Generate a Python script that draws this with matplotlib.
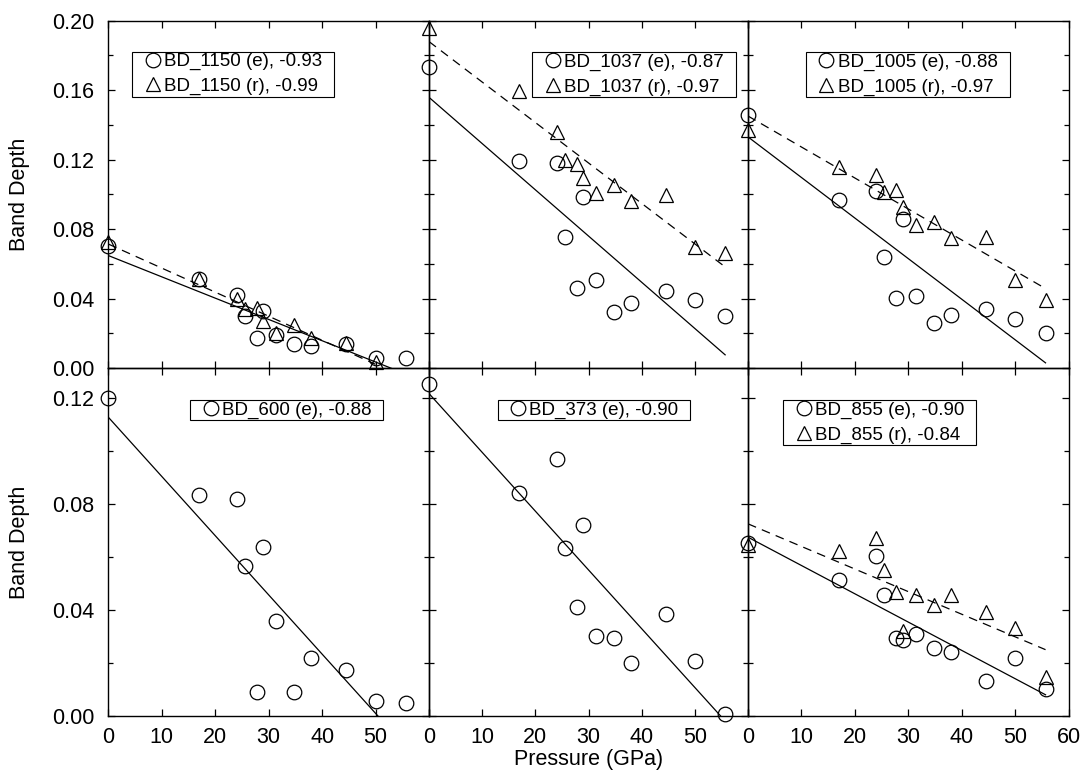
import matplotlib
matplotlib.use("Agg")
import matplotlib.pyplot as plt
from matplotlib.patches import Rectangle
from matplotlib.ticker import MultipleLocator
import numpy as np

plt.rcParams["font.family"] = ["Liberation Sans", "DejaVu Sans"]

# pressure steps (GPa), shared by every band
pressure = [0, 17, 24, 25.5, 27.8, 29, 31.4, 34.8, 38, 44.5, 50, 55.7]

bd1150_e = [0.070, 0.051, 0.042, 0.030, 0.017, 0.033, 0.019, 0.0136, 0.0128, 0.014, 0.006, 0.0056]
bd1150_r = [0.0727, 0.051, 0.040, 0.034, 0.0345, 0.027, 0.020, 0.0248, 0.0172, 0.0144, 0.0036]

bd1037_e = [0.1735, 0.1194, 0.1182, 0.0756, 0.0459, 0.0987, 0.0507, 0.0321, 0.0372, 0.0445, 0.0392, 0.0299]
bd1037_r = [0.1956, 0.1597, 0.1361, 0.1198, 0.1173, 0.1096, 0.1006, 0.1054, 0.0962, 0.0996, 0.0699, 0.0660]

bd1005_e = [0.1457, 0.0967, 0.1019, 0.0641, 0.0401, 0.0858, 0.0416, 0.0261, 0.0305, 0.0340, 0.0282, 0.0200]
bd1005_r = [0.1371, 0.1156, 0.1111, 0.1015, 0.1025, 0.0929, 0.0823, 0.0843, 0.0747, 0.0756, 0.0507, 0.0392]

bd600_e = [0.120, 0.0833, 0.0817, 0.0567, 0.0092, 0.0638, 0.0358, 0.0089, 0.0217, 0.0172, 0.0058, 0.0048]

bd373_e = [0.1254, 0.0842, 0.0968, 0.0632, 0.0410, 0.0720, 0.0302, 0.0293, 0.0201, 0.0385, 0.0209, 0.0006]

bd855_e = [0.0651, 0.0513, 0.0603, 0.0456, 0.0293, 0.0287, 0.0309, 0.0258, 0.0243, 0.0132, 0.0218, 0.0101]
bd855_r = [0.0645, 0.0623, 0.0672, 0.0550, 0.0469, 0.0322, 0.0456, 0.0418, 0.0456, 0.0391, 0.0331, 0.0148]

labels_1150 = ["BD_1150 (e), -0.93", "BD_1150 (r), -0.99"]
labels_1037 = ["BD_1037 (e), -0.87", "BD_1037 (r), -0.97"]
labels_1005 = ["BD_1005 (e), -0.88", "BD_1005 (r), -0.97"]
labels_600 = ["BD_600 (e), -0.88"]
labels_373 = ["BD_373 (e), -0.90"]
labels_855 = ["BD_855 (e), -0.90", "BD_855 (r), -0.84"]

W, H = 1081, 774
FS = 15.5      # ticks / axis titles
LFS = 13.5     # legend text
PADX, PADY = 12, 1.5   # legend box padding, px

fig = plt.figure(figsize=(W / 100, H / 100), dpi=100)

col_px = [(108.3, 320.7), (429.0, 319.0), (748.0, 320.5)]
row_px = [(20.7, 368.0), (368.0, 716.0)]


def make_ax(row, col):
    x0, w = col_px[col]
    top, bot = row_px[row]
    ax = fig.add_axes([x0 / W, 1 - bot / H, w / W, (bot - top) / H])
    ax.set_facecolor("none")
    return ax, w, bot - top


def draw_series(ax, y, marker, ls):
    x = np.array(pressure[: len(y)], dtype=float)
    y = np.array(y, dtype=float)
    slope, icpt = np.polyfit(x, y, 1)
    xx = np.array([x.min(), x.max()])
    line, = ax.plot(xx, icpt + slope * xx, color="black", lw=0.9, ls=ls, zorder=2)
    if ls == "--":
        line.set_dashes((7, 5))
    h, = ax.plot(x, y, ls="none", marker=marker, ms=10.5, mfc="none", mec="black",
                 mew=0.9, clip_on=False, zorder=3)
    return h


def style(ax, row, col, ymax, ylabels):
    ax.set_xlim(0, 60)
    ax.set_ylim(0, ymax)
    ax.xaxis.set_major_locator(MultipleLocator(10))
    ax.yaxis.set_major_locator(MultipleLocator(0.04))
    ax.yaxis.set_minor_locator(MultipleLocator(0.02))
    ax.tick_params(which="both", direction="in", top=True, right=True, width=0.9,
                   labelsize=FS, colors="black")
    ax.tick_params(which="major", length=5)
    ax.tick_params(which="minor", length=3.5)
    ax.tick_params(axis="y", pad=10)
    ax.tick_params(axis="x", pad=8)
    for sp in ax.spines.values():
        sp.set_linewidth(1.0)
    if row == 1:
        ticks = list(range(0, 61, 10))
        ax.set_xticks(ticks)
        ax.set_xticklabels([str(t) if (t < 60 or col == 2) else "" for t in ticks])
    else:
        ax.set_xticklabels([])
    if col == 0:
        ax.set_yticks(ylabels)
        ax.set_yticklabels([f"{v:.2f}" for v in ylabels])
    else:
        ax.set_yticklabels([])


top_ticks = [0.00, 0.04, 0.08, 0.12, 0.16, 0.20]
bot_ticks = [0.00, 0.04, 0.08, 0.12]

panels = [
    (0, 0, [bd1150_e, bd1150_r], labels_1150, (0.075, 0.911)),
    (0, 1, [bd1037_e, bd1037_r], labels_1037, (0.324, 0.909)),
    (0, 2, [bd1005_e, bd1005_r], labels_1005, (0.181, 0.909)),
    (1, 0, [bd600_e], labels_600, (0.255, 0.908)),
    (1, 1, [bd373_e], labels_373, (0.215, 0.908)),
    (1, 2, [bd855_e, bd855_r], labels_855, (0.110, 0.908)),
]

legends = []
for row, col, series, labels, (lx, ly) in panels:
    ax, axw, axh = make_ax(row, col)
    handles = [draw_series(ax, series[0], "o", "-")]
    if len(series) > 1:
        handles.append(draw_series(ax, series[1], "^", "--"))
    style(ax, row, col, 0.20 if row == 0 else 0.1313, top_ticks if row == 0 else bot_ticks)
    leg = ax.legend(handles, labels, loc="upper left",
                    bbox_to_anchor=(lx + PADX / axw, ly - PADY / axh),
                    frameon=False, borderaxespad=0, borderpad=0,
                    handlelength=0.9, handletextpad=0.15, labelspacing=0.4,
                    fontsize=LFS)
    leg.set_zorder(5)
    legends.append(leg)

fig.text(20 / W, 1 - 194 / H, "Band Depth", rotation=90, ha="center", va="center", fontsize=FS)
fig.text(20 / W, 1 - 542 / H, "Band Depth", rotation=90, ha="center", va="center", fontsize=FS)
fig.text(588.5 / W, 1 - 760 / H, "Pressure (GPa)", ha="center", va="center", fontsize=FS)

# square frames around the legends, wider padding left/right than top/bottom
fig.canvas.draw()
inv = fig.transFigure.inverted()
for leg in legends:
    bb = leg.get_window_extent()
    (x0, y0), (x1, y1) = inv.transform([(bb.x0 - PADX, bb.y0 - PADY), (bb.x1 + PADX, bb.y1 + PADY)])
    fig.add_artist(Rectangle((x0, y0), x1 - x0, y1 - y0, transform=fig.transFigure,
                             fill=False, edgecolor="black", lw=0.8, zorder=4))

fig.savefig("out.png", dpi=100)
